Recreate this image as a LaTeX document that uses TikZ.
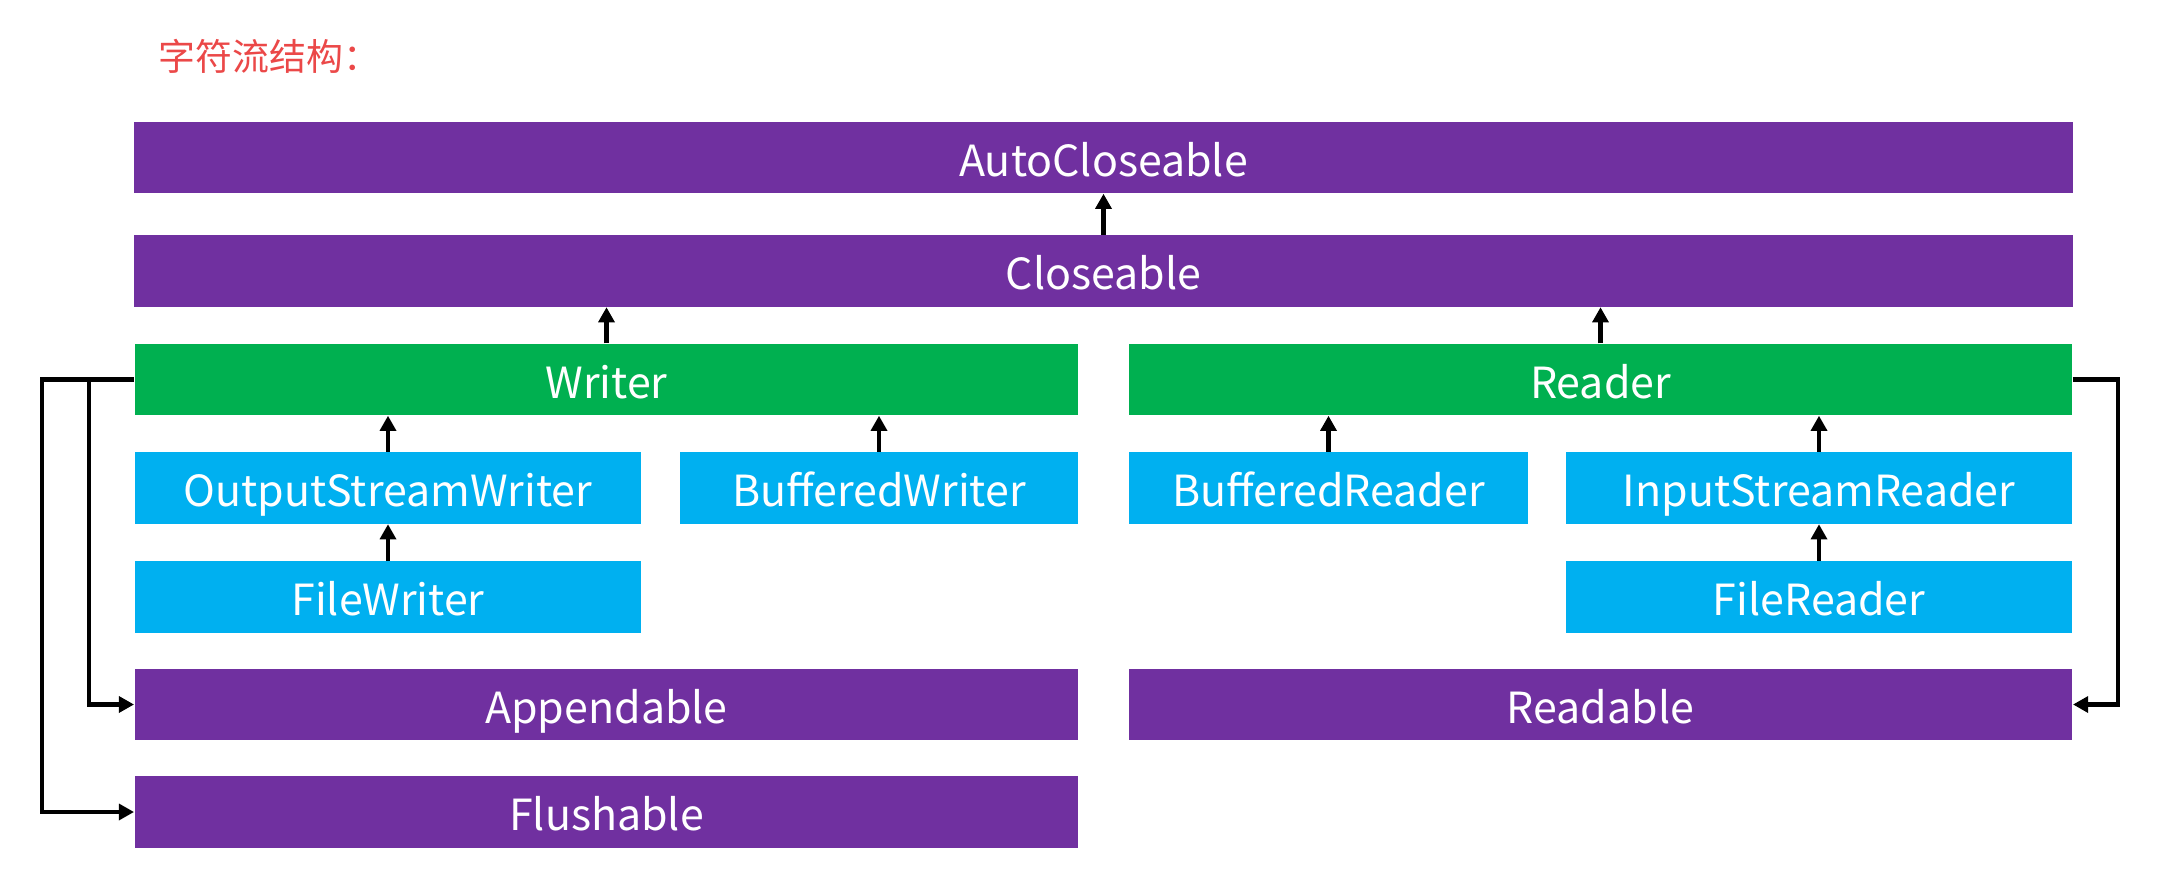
\documentclass[tikz,border=0pt]{standalone}
\usepackage{fontspec}
\setmainfont{Noto Sans CJK SC}
\usetikzlibrary{arrows.meta,positioning,calc}
\definecolor{ifpurple}{RGB}{112,48,160}
\definecolor{absgreen}{RGB}{0,176,80}
\definecolor{clsblue}{RGB}{0,176,240}
\definecolor{titlered}{RGB}{235,72,72}

\begin{document}
\begin{tikzpicture}[x=0.01cm,y=-0.01cm,
  box/.style={inner sep=0pt,minimum height=0.71cm,text height=10.8pt,text depth=0pt,
    text=white,font=\fontsize{12.2}{14}\selectfont},
  iface/.style={box,fill=ifpurple},
  abstr/.style={box,fill=absgreen},
  impl/.style={box,fill=clsblue},
  full/.style={minimum width=19.37cm},
  half/.style={minimum width=9.43cm},
  big/.style={minimum width=5.06cm},
  small/.style={minimum width=3.98cm},
  arr/.style={-{Triangle[length=4.3pt,width=4.5pt]},line width=1.3pt}
]
\useasboundingbox (0,0) rectangle (2166,894);

% the title
\node[anchor=west,text=titlered,font=\fontsize{10.5}{12}\selectfont,inner sep=0pt] (title) at (158,56) {字符流结构：};

% the top interfaces
\node[iface,full] (auto) at (1103.5,157.5) {AutoCloseable};
\node[iface,full] (close) at (1103.5,271) {Closeable};

% the abstract classes
\node[abstr,half] (writer) at (606.5,379.5) {Writer};
\node[abstr,half] (reader) at (1600.5,379.5) {Reader};

% the implementations
\node[impl,big] (osw) at (388,488) {OutputStreamWriter};
\node[impl,small] (bw) at (879,488) {BufferedWriter};
\node[impl,small] (br) at (1328.5,488) {BufferedReader};
\node[impl,big] (isr) at (1819,488) {InputStreamReader};
\node[impl,big] (fw) at (388,597) {FileWriter};
\node[impl,big] (fr) at (1819,597) {FileReader};

% the other interfaces
\node[iface,half] (app) at (606.5,704.5) {Appendable};
\node[iface,half] (rdbl) at (1600.5,704.5) {Readable};
\node[iface,half] (flush) at (606.5,812) {Flushable};

% the edges, child up to parent
\foreach \c/\p in {close/auto,writer/close,reader/close,osw/writer,bw/writer,br/reader,isr/reader,fw/osw,fr/isr}
  \draw[arr] (\c.north) -- (\c.north |- \p.south);

\draw[arr] (writer.west) -- ++(-92,0) |- (flush.west);
\draw[arr] (writer.west) ++(-45,0) |- (app.west);
\draw[arr] (reader.east) -- ++(45,0) |- (rdbl.east);
\end{tikzpicture}
\end{document}
